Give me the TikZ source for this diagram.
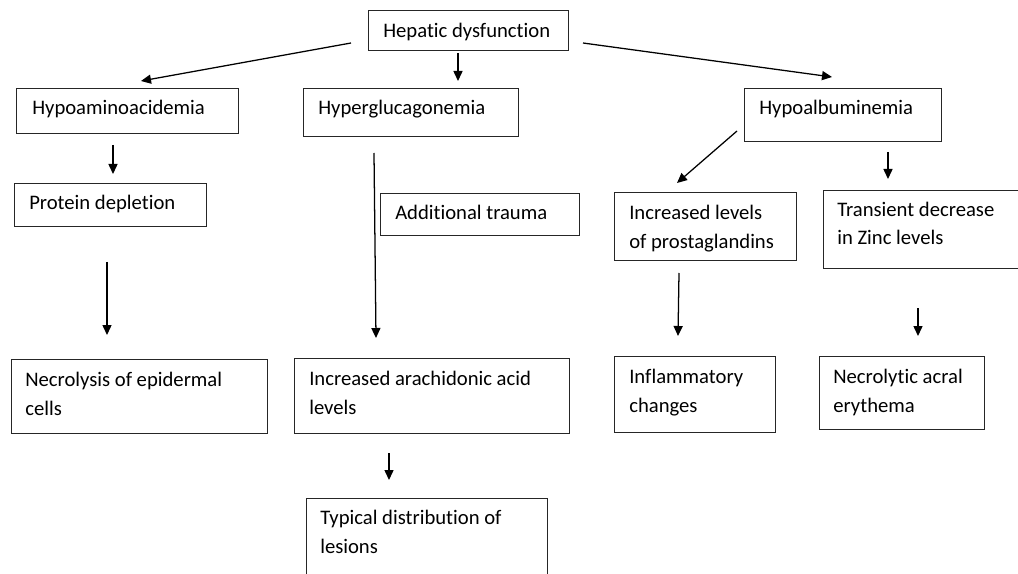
\documentclass[tikz,border=0pt]{standalone}
\usepackage{fontspec}
\setmainfont{Carlito}[Ligatures=NoCommon]
\usetikzlibrary{arrows.meta}
\begin{document}
\begin{tikzpicture}[x=0.75pt,y=-0.75pt,
  box/.style={draw=black!85, line width=0.95pt, inner sep=0pt, anchor=north west},
  txt/.style={anchor=base west, inner sep=0pt, font=\fontsize{15.5}{21.4}\selectfont, align=left},
  arr/.style={line width=0.95pt, -{Triangle[length=7.5pt,width=6.8pt]}}]
\useasboundingbox (0,0) rectangle (1018,574);
\clip (0,0) rectangle (1018,574);
% boxes (two-line texts are placed by the baseline of their last line)
\node[box, minimum width=150pt, minimum height=30pt] (hep) at (368,10) {};
\node[txt] (thep) at (383,38) {Hepatic dysfunction};
\node[box, minimum width=166.5pt, minimum height=33.75pt] (hypoam) at (16,88) {};
\node[txt] (thypoam) at (32,115) {Hypoaminoacidemia};
\node[box, minimum width=161.25pt, minimum height=36pt] (hyperg) at (303,88) {};
\node[txt] (thyperg) at (318,115) {Hyperglucagonemia};
\node[box, minimum width=147.75pt, minimum height=39.75pt] (hypoal) at (744,88) {};
\node[txt] (thypoal) at (759,115) {Hypoalbuminemia};
\node[box, minimum width=144pt, minimum height=32.25pt] (prot) at (14,183) {};
\node[txt] (tprot) at (29,210) {Protein depletion};
\node[box, minimum width=149.25pt, minimum height=31.5pt] (trauma) at (380,193) {};
\node[txt] (ttrauma) at (395,220) {Additional trauma};
\node[box, minimum width=136.5pt, minimum height=51pt] (prost) at (614,192) {};
\node[txt] (tprost) at (629,248) {Increased levels\\of prostaglandins};
\node[box, minimum width=150pt, minimum height=58.5pt] (zinc) at (823,190) {};
\node[txt] (tzinc) at (837,245) {Transient decrease\\in Zinc levels};
\node[box, minimum width=192pt, minimum height=55.5pt] (necro) at (11,359) {};
\node[txt] (tnecro) at (25,415) {Necrolysis of epidermal\\cells};
\node[box, minimum width=206.25pt, minimum height=56.25pt] (arach) at (294,358) {};
\node[txt] (tarach) at (309,414) {Increased arachidonic acid\\levels};
\node[box, minimum width=120.75pt, minimum height=57pt] (infl) at (614,356) {};
\node[txt] (tinfl) at (629,412) {Inflammatory\\changes};
\node[box, minimum width=123.75pt, minimum height=54.75pt] (acral) at (819,356) {};
\node[txt] (tacral) at (833,412) {Necrolytic acral\\erythema};
\node[box, minimum width=180.75pt, minimum height=75pt] (typ) at (306,498) {};
\node[txt] (ttyp) at (320,553) {Typical distribution of\\lesions};
% arrow end points
\coordinate (a1s) at (351,43);  \coordinate (a1e) at (141,81);
\coordinate (a2s) at (458,53);  \coordinate (a2e) at (458,81);
\coordinate (a3s) at (583,43);  \coordinate (a3e) at (832,77);
\coordinate (a4s) at (113,145); \coordinate (a4e) at (113,174);
\coordinate (a5s) at (374,153); \coordinate (a5e) at (376,338);
\coordinate (a6s) at (737,131); \coordinate (a6e) at (677,183);
\coordinate (a7s) at (888,152); \coordinate (a7e) at (888,179);
\coordinate (a8s) at (107,262); \coordinate (a8e) at (107,335);
\coordinate (a9s) at (679,273); \coordinate (a9e) at (678,336);
\coordinate (a10s) at (918,308); \coordinate (a10e) at (918,336);
\coordinate (a11s) at (389,453); \coordinate (a11e) at (389,480);
% connectors
\draw[arr] (a1s) -- (a1e);
\draw[arr] (a2s) -- (a2e);
\draw[arr] (a3s) -- (a3e);
\draw[arr] (a4s) -- (a4e);
\draw[arr] (a5s) -- (a5e);
\draw[arr] (a6s) -- (a6e);
\draw[arr] (a7s) -- (a7e);
\draw[arr] (a8s) -- (a8e);
\draw[arr] (a9s) -- (a9e);
\draw[arr] (a10s) -- (a10e);
\draw[arr] (a11s) -- (a11e);
\end{tikzpicture}
\end{document}
